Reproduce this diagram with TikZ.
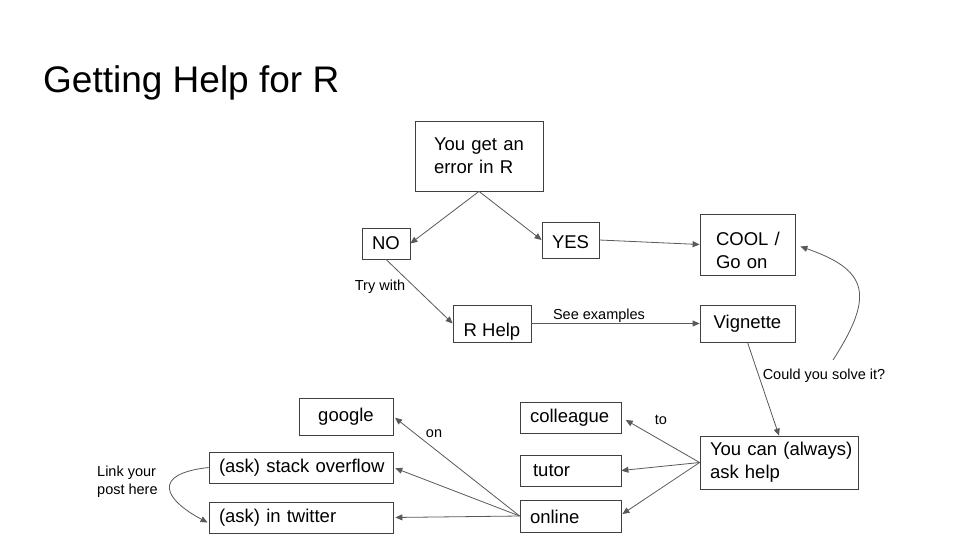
\documentclass[tikz,border=0pt]{standalone}
\usepackage{fontspec}
\setmainfont{Liberation Sans}
\usetikzlibrary{arrows.meta,calc}
\definecolor{boxline}{HTML}{404040}
\definecolor{conn}{HTML}{595959}
\begin{document}
\begin{tikzpicture}[x=1pt,y=-1pt,
  box/.style={draw=boxline,line width=0.8pt,font=\fontsize{18.5}{23}\selectfont,inner ysep=0pt},
  lbox/.style={box,align=left},
  cbox/.style={box,align=center,inner xsep=0pt},
  arr/.style={draw=conn,line width=0.8pt,-{Triangle[length=7pt,width=6pt]}},
  lab/.style={font=\fontsize{14.5}{18}\selectfont,inner sep=0pt}
]
\useasboundingbox (0,0) rectangle (960,540);
\fill[white] (0,0) rectangle (960,540);
% title
\node[anchor=base west,inner sep=0pt,font=\fontsize{37}{44}\selectfont] (title) at (43,93) {Getting Help for R};
% boxes
\node[lbox,text width=90pt,inner xsep=19pt,minimum height=70pt] (err) at (479,156) {\mbox{You get an}\\\mbox{error in R}};
\node[cbox,minimum width=48pt,minimum height=31pt] (no) at (386,243.5) {NO};
\node[cbox,minimum width=57pt,minimum height=36pt,text height=17pt,text depth=0pt] (yes) at (570.5,240) {YES};
\node[lbox,text width=63pt,inner xsep=16pt,minimum height=61pt] (cool) at (747.5,244.5) {\mbox{\rule{0pt}{26pt}COOL /}\\\mbox{Go on}};
\node[cbox,minimum width=78pt,minimum height=37pt,text height=25pt,text depth=0pt] (rhelp) at (492,323.5) {R Help};
\node[cbox,minimum width=95pt,minimum height=37pt] (vig) at (747.5,323.5) {Vignette};
\node[lbox,text width=138pt,inner xsep=10pt,minimum height=53pt] (ask) at (779,462.5) {\mbox{You can (always)}\\\mbox{ask help}};
\node[lbox,text width=81pt,inner xsep=10pt,minimum height=31pt] (coll) at (570.5,417.5) {\mbox{colleague}};
\node[lbox,text width=81pt,inner xsep=10pt,minimum height=31pt] (tutor) at (570.5,470.5) {\mbox{\,tutor}};
\node[lbox,text width=81pt,inner xsep=10pt,minimum height=32pt,text height=17pt,text depth=2pt] (online) at (570.5,516) {\mbox{online}};
\node[cbox,minimum width=94pt,minimum height=37pt] (google) at (346,416.5) {google};
\node[lbox,text width=164pt,inner xsep=10pt,minimum height=31pt] (stack) at (301,467.5) {\mbox{(ask) stack overflow}};
\node[lbox,text width=164pt,inner xsep=10pt,minimum height=31pt] (twitter) at (301,517.5) {\mbox{(ask) in twitter}};
% labels
\node[lab] (trywith) at (380,287) {Try with};
\node[lab] (seeex) at (599,316) {See examples};
\node[lab] (solve) at (824,376) {Could you solve it?};
\node[lab] (to) at (661,420) {to};
\node[lab] (on) at (434,434) {on};
\node[lab,anchor=west,align=left] (link) at (97,482) {Link your\\post here};
\coordinate (cs) at (833,360);
% connectors
\draw[arr] (err.south) -- (no.east);
\draw[arr] (err.south) -- (yes.west);
\draw[arr] (yes.east) -- (cool.west);
\draw[arr] (no.south) -- (rhelp.west);
\draw[arr] (rhelp.east) -- (vig.west);
\draw[arr] (vig.south) -- (ask.north);
\draw[arr] (cs) .. controls (875,295) and (868,270) .. ($(cool.east)+(5,2)$);
\draw[arr,shorten >=5pt] (ask.west) -- (coll.east);
\draw[arr] (ask.west) -- (tutor.east);
\draw[arr] (ask.west) -- ($(online.east)+(1,-2)$);
\draw[arr,shorten >=2pt] (online.west) -- (google.east);
\draw[arr,shorten >=2pt] (online.west) -- (stack.east);
\draw[arr,shorten >=2pt] (online.west) -- (twitter.east);
\draw[arr] (stack.west) .. controls (150,474) and (165,500) .. ($(twitter.west)+(-1,5)$);
\end{tikzpicture}
\end{document}
